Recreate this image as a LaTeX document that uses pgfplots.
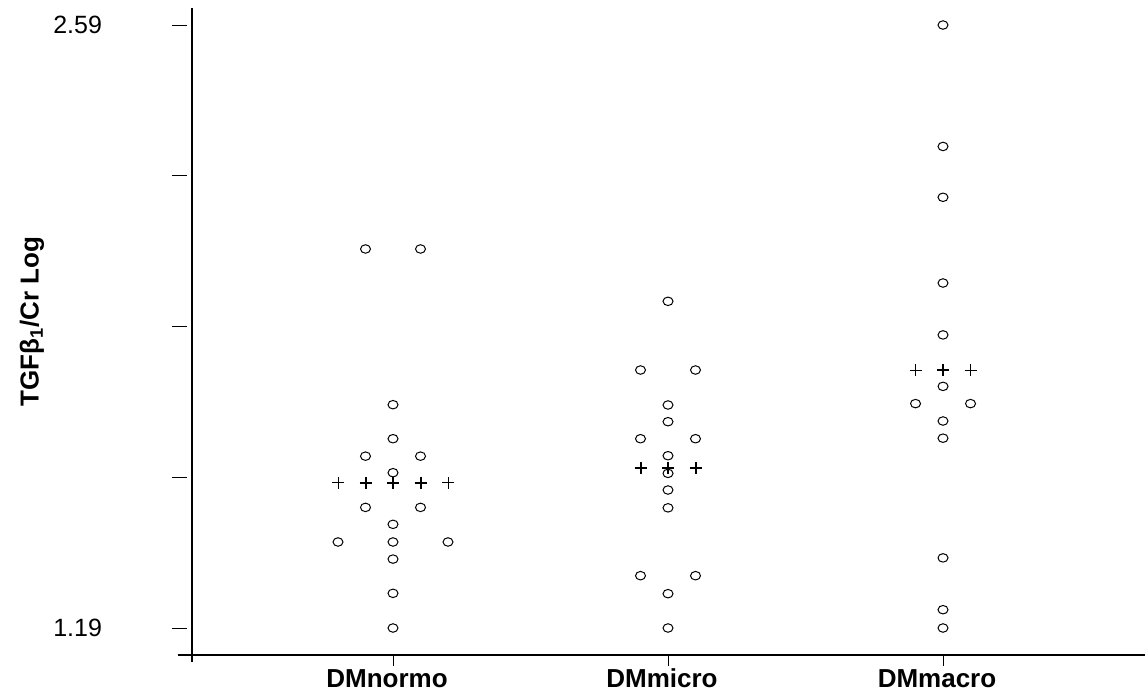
\documentclass[border=0pt]{standalone}
\usepackage{fontspec}
\setmainfont{Liberation Sans}
\usepackage{pgfplots}
\pgfplotsset{compat=1.18}
\begin{document}
\begin{tikzpicture}
\useasboundingbox (-96pt,-19pt) rectangle (476.5pt,327.5pt);
\begin{axis}[
  at={(0,0)}, anchor=south west,
  scale only axis, width=476.5pt, height=323.5pt,
  xmin=0.2691, xmax=3.7345, ymin=1.1273, ymax=2.6295,
  axis line style={draw=none},
  clip=false,
  xtick={1,2,3}, xticklabels={DMnormo,DMmicro,DMmacro},
  xtick pos=left, ytick pos=left,
  tick align=outside, major tick length=5.5pt,
  ytick={1.19,1.54,1.89,2.24,2.59}, yticklabels={1.19,,,,2.59},
  y tick style={draw=none},
  x tick style={black, line width=0.5pt},
  xticklabel style={font=\fontsize{13}{15}\selectfont\bfseries, text height=9.5pt, text depth=0pt, anchor=north, xshift=-3pt, yshift=2.5pt},
  yticklabel style={font=\fontsize{12.5}{14}\selectfont, anchor=east, xshift=-36pt},
  /pgf/number format/assume math mode=true,
  ylabel={TGFβ\textsubscript{1}/Cr Log},
  ylabel style={font=\fontsize{13}{15}\selectfont\bfseries, at={(axis description cs:-0.168,0.515)}, anchor=center},
]
% axis lines
\draw[black, line width=0.8pt] (axis cs:0.218,1.1273) -- (axis cs:3.7345,1.1273);
\draw[black, line width=0.6pt] (axis cs:0.2691,1.111) -- (axis cs:0.2691,2.6295);
\pgfplotsinvokeforeach{1.19,1.54,1.89,2.24,2.59}{
  \draw[black, line width=0.5pt] ([xshift=-10pt]axis cs:0.2691,#1) -- ([xshift=-2.5pt]axis cs:0.2691,#1);
}
% circles
\addplot[only marks, mark=o, mark size=2.5pt, mark options={line width=0.5pt, yscale=0.85}] coordinates {
(0.9,2.07)(1.1,2.07)
(1,1.7085)(1,1.6295)
(0.9,1.589)(1.1,1.589)
(1,1.5506)
(0.9,1.470)(1.1,1.470)
(1,1.4307)
(0.8,1.3897)(1,1.3897)(1.2,1.3897)
(1,1.350)(1,1.2705)(1,1.19)
};
\addplot[only marks, mark=o, mark size=2.5pt, mark options={line width=0.5pt, yscale=0.85}] coordinates {
(2,1.9485)
(1.9,1.789)(2.1,1.789)
(2,1.7078)(2,1.669)
(1.9,1.6295)(2.1,1.6295)
(2,1.590)(2,1.549)(2,1.5104)(2,1.469)
(1.9,1.3115)(2.1,1.3115)
(2,1.2697)(2,1.19)
};
\addplot[only marks, mark=o, mark size=2.5pt, mark options={line width=0.5pt, yscale=0.85}] coordinates {
(3,2.59)(3,2.308)(3,2.19)(3,1.991)(3,1.8705)
(3,1.751)(2.9,1.711)(3.1,1.711)(3,1.6706)(3,1.6307)(3,1.3528)(3,1.2325)(3,1.19)
};
% means
\addplot[only marks, mark=+, mark size=3pt, mark options={line width=0.5pt}] coordinates {
(0.8,1.527)(1.2,1.527)(2.9,1.788)(3.1,1.788)
};
\addplot[only marks, mark=+, mark size=3pt, mark options={line width=1pt}] coordinates {
(0.9,1.527)(1,1.527)(1.1,1.527)(1.9,1.5608)(2,1.5608)(2.1,1.5608)(3,1.788)
};
\end{axis}
\end{tikzpicture}
\end{document}
